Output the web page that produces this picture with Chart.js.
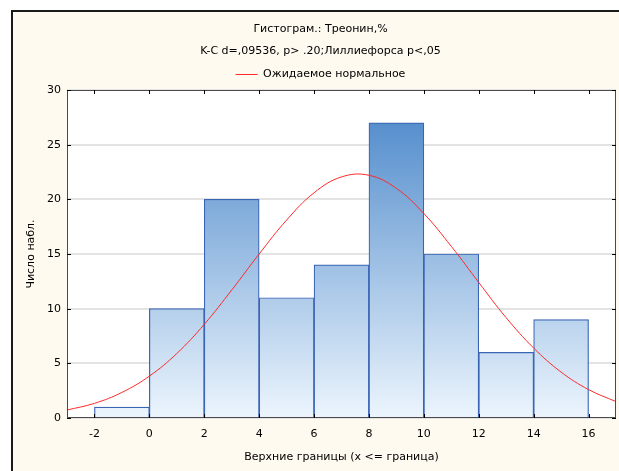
<!DOCTYPE html>
<html>
<head>
<meta charset="utf-8">
<script src="https://cdn.jsdelivr.net/npm/chart.js@4.4.1/dist/chart.umd.min.js"></script>
<style>
  html, body { margin: 0; padding: 0; background: #ffffff; }
  #wrap { width: 619px; height: 471px; position: relative; }
</style>
</head>
<body>
<div id="wrap"><canvas id="histChart"></canvas></div>
<script>
// Histogram data (upper bounds of 2-unit bins)
const binCenters = [-1, 1, 3, 5, 7, 9, 11, 13, 15];
const binCounts = [1, 10, 20, 11, 14, 27, 15, 6, 9];

// Expected normal curve
const curveX = [-3, -2, -1, 0, 1, 2, 3, 4, 5, 6, 7, 8, 9, 10, 11, 12, 13, 14, 15, 16, 17];
const curveY = [0.73, 1.34, 2.34, 3.83, 5.9, 8.57, 11.7, 15.0, 18.1, 20.6, 22.05, 22.2, 21.0, 18.7, 15.7, 12.4, 9.17, 6.4, 4.2, 2.6, 1.5];

const xTicks = [-2, 0, 2, 4, 6, 8, 10, 12, 14, 16];
const yTicks = [0, 5, 10, 15, 20, 25, 30];

const titleLines = ['Гистограм.: Треонин,%', 'K-C d=,09536, p> .20;Лиллиефорса p<,05'];
const curveLabel = 'Ожидаемое нормальное';
const xTitle = 'Верхние границы (x <= граница)';
const yTitle = 'Число набл.';

const colors = {
    cream: '#fffaf0',
    frame: '#1a1a1a',
    plotBorder: '#4a4a4a',
    grid: '#e3e3e3',
    barEdge: '#3a64b4',
    barTop: '#4684c8',
    barBottom: '#ecf5fd',
    curve: '#ff2a2a',
    text: '#000000'
};

const font = "'DejaVu Sans', Verdana, sans-serif";

// Background, outer frame and white plot area
const framePlugin = {
    id: 'frame',
    beforeDraw(chart) {
        const { ctx, chartArea: a, width, height } = chart;
        ctx.save();
        ctx.fillStyle = '#ffffff';
        ctx.fillRect(0, 0, width, height);
        ctx.fillStyle = colors.cream;
        ctx.fillRect(11, 10, width - 11, height - 10);
        ctx.strokeStyle = colors.frame;
        ctx.lineWidth = 2;
        ctx.beginPath();
        ctx.moveTo(12, height);
        ctx.lineTo(12, 11);
        ctx.lineTo(width, 11);
        ctx.stroke();
        ctx.fillStyle = '#ffffff';
        ctx.fillRect(a.left, a.top, a.right - a.left, a.bottom - a.top);
        ctx.restore();
    },
    afterDraw(chart) {
        const { ctx, chartArea: a, scales } = chart;
        ctx.save();
        ctx.strokeStyle = colors.plotBorder;
        ctx.lineWidth = 1;
        ctx.strokeRect(a.left + 0.5, a.top + 0.5, a.right - a.left - 1, a.bottom - a.top - 1);
        // inward tick marks on all four sides
        ctx.strokeStyle = '#000000';
        ctx.beginPath();
        xTicks.forEach(v => {
            const px = Math.round(scales.x.getPixelForValue(v)) + 0.5;
            ctx.moveTo(px, a.bottom); ctx.lineTo(px, a.bottom - 4);
            ctx.moveTo(px, a.top); ctx.lineTo(px, a.top + 4);
        });
        yTicks.forEach(v => {
            const py = Math.round(scales.y.getPixelForValue(v)) + 0.5;
            ctx.moveTo(a.left, py); ctx.lineTo(a.left + 4, py);
            ctx.moveTo(a.right, py); ctx.lineTo(a.right - 4, py);
        });
        ctx.stroke();
        ctx.restore();
    }
};

function barGradient(context) {
    const chart = context.chart;
    const a = chart.chartArea;
    if (!a) return colors.barBottom;
    const g = chart.ctx.createLinearGradient(0, a.bottom, 0, a.top);
    g.addColorStop(0, colors.barBottom);
    g.addColorStop(1, colors.barTop);
    return g;
}

new Chart(document.getElementById('histChart'), {
    data: {
        datasets: [
            {
                type: 'bar',
                label: 'hist',
                data: binCenters.map((x, i) => ({ x: x, y: binCounts[i] })),
                backgroundColor: barGradient,
                borderColor: colors.barEdge,
                borderWidth: 1.2,
                borderSkipped: 'start',
                barPercentage: 1,
                categoryPercentage: 1,
                order: 2
            },
            {
                type: 'line',
                label: curveLabel,
                data: curveX.map((x, i) => ({ x: x, y: curveY[i] })),
                borderColor: colors.curve,
                backgroundColor: colors.curve,
                borderWidth: 1,
                pointRadius: 0,
                tension: 0.4,
                order: 1
            }
        ]
    },
    options: {
        responsive: true,
        maintainAspectRatio: false,
        animation: false,
        layout: { padding: { left: 25, right: 3, top: 0, bottom: 0 } },
        plugins: {
            title: {
                display: true,
                text: titleLines,
                color: colors.text,
                font: { family: font, size: 11, weight: 'normal', lineHeight: 2 },
                padding: { top: 18, bottom: 1 }
            },
            legend: {
                display: true,
                position: 'top',
                labels: {
                    color: colors.text,
                    font: { family: font, size: 11 },
                    boxWidth: 22,
                    boxHeight: 1,
                    padding: 6,
                    generateLabels: chart => [{
                        text: curveLabel,
                        fillStyle: colors.curve,
                        strokeStyle: colors.curve,
                        lineWidth: 0,
                        datasetIndex: 1
                    }]
                }
            },
            tooltip: { enabled: false }
        },
        scales: {
            x: {
                type: 'linear',
                min: -3,
                max: 17,
                offset: false,
                afterBuildTicks: s => { s.ticks = xTicks.map(v => ({ value: v })); },
                afterFit: s => { s.height = 53; },
                grid: { display: false, drawTicks: false },
                border: { display: false },
                ticks: { color: colors.text, font: { family: font, size: 11 }, padding: 10 },
                title: {
                    display: true,
                    text: xTitle,
                    color: colors.text,
                    font: { family: font, size: 11 },
                    padding: { top: 2, bottom: 7 }
                }
            },
            y: {
                min: 0,
                max: 30,
                afterBuildTicks: s => { s.ticks = yTicks.map(v => ({ value: v })); },
                afterFit: s => { s.width = 42; },
                grid: { color: colors.grid, lineWidth: 2, drawTicks: false },
                border: { display: false },
                ticks: { color: colors.text, font: { family: font, size: 11 }, padding: 6 },
                title: {
                    display: true,
                    text: yTitle,
                    color: colors.text,
                    font: { family: font, size: 11 },
                    padding: { top: 0, bottom: 0 }
                }
            }
        }
    },
    plugins: [framePlugin]
});
</script>
</body>
</html>
